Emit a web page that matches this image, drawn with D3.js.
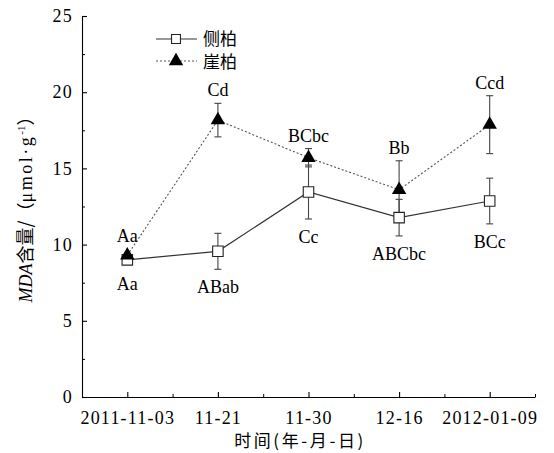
<!DOCTYPE html>
<html>
<head>
<meta charset="utf-8">
<script src="https://cdn.jsdelivr.net/npm/d3@7"></script>
<style>
  body { margin: 0; background: #fff; }
  svg { display: block; }
</style>
</head>
<body>
<svg width="554" height="453"></svg>
<script>
const categories = ['2011-11-03', '11-21', '11-30', '12-16', '2012-01-09'];
const cebaiMean = [9.0, 9.56, 13.45, 11.77, 12.86];
const cebaiErr = [0, 1.18, 1.77, 1.2, 1.5];
const yabaiMean = [9.3, 18.17, 15.7, 13.6, 17.87];
const yabaiErr = [0, 1.1, 0.6, 1.9, 1.9];
const cebaiLetters = ['Aa', 'ABab', 'Cc', 'ABCbc', 'BCc'];
const yabaiLetters = ['Aa', 'Cd', 'BCbc', 'Bb', 'Ccd'];
const yTicks = [0, 5, 10, 15, 20, 25];
const yMinor = [2.5, 7.5, 12.5, 17.5, 22.5];

const serif = '"Liberation Serif", "Noto Sans CJK SC", serif';
const cjk = '"Noto Sans CJK SC", "Liberation Serif", sans-serif';

const svg = d3.select('svg');

const x = d3.scaleLinear().domain([0.5, 5.5]).range([82, 535]);
const y = d3.scaleLinear().domain([0, 25]).range([397, 16]);
const idx = categories.map((c, i) => i + 1);

// minor ticks first
svg.append('g')
    .attr('transform', 'translate(0,397)')
    .call(d3.axisBottom(x).tickValues([1.5, 2.5, 3.5, 4.5, 5.5]).tickSize(-3).tickSizeOuter(0).tickFormat(''))
    .call(g => g.select('.domain').remove());
svg.append('g')
    .attr('transform', 'translate(82,0)')
    .call(d3.axisLeft(y).tickValues(yMinor).tickSize(-3).tickSizeOuter(0).tickFormat(''))
    .call(g => g.select('.domain').remove());

const xAxis = svg.append('g')
    .attr('transform', 'translate(0,397)')
    .call(d3.axisBottom(x).tickValues(idx).tickSize(-5).tickSizeOuter(0)
        .tickPadding(14).tickFormat(i => categories[i - 1]));

const yAxis = svg.append('g')
    .attr('transform', 'translate(82,0)')
    .call(d3.axisLeft(y).tickValues(yTicks).tickSize(-5).tickSizeOuter(0)
        .tickPadding(9).tickFormat(d3.format('d')));

[xAxis, yAxis].forEach(g => {
    g.attr('font-family', serif).attr('font-size', 18);
    g.selectAll('text').attr('fill', '#000').attr('letter-spacing', '1.2px');
    g.selectAll('line, path').attr('stroke', '#000').attr('stroke-width', 1.1);
});

// axis titles
svg.append('text')
    .attr('x', 300).attr('y', 447)
    .attr('text-anchor', 'middle')
    .attr('font-family', cjk).attr('font-size', 17)
    .attr('letter-spacing', '2.6px')
    .text('时间(年-月-日)');

const yt = svg.append('text')
    .attr('transform', 'translate(32,205) rotate(-90)')
    .attr('text-anchor', 'middle')
    .attr('font-family', serif).attr('font-size', 18);
yt.append('tspan').attr('font-style', 'italic').text('MDA');
yt.append('tspan').attr('font-family', cjk).text('含量/（');
yt.append('tspan').attr('letter-spacing', '2.5px').text('μmol·g');
yt.append('tspan').attr('font-size', 11).attr('dy', -7).text('-1');
yt.append('tspan').attr('font-family', cjk).attr('dy', 7).text('）');

// lines
const line = d3.line().x((d, i) => x(i + 1)).y(d => y(d));
svg.append('path')
    .datum(cebaiMean)
    .attr('d', line)
    .attr('fill', 'none')
    .attr('stroke', '#333')
    .attr('stroke-width', 1.2);
svg.append('path')
    .datum(yabaiMean)
    .attr('d', line)
    .attr('fill', 'none')
    .attr('stroke', '#555')
    .attr('stroke-width', 1.1)
    .attr('stroke-dasharray', '2,2');

// error bars
function errorBars(means, errs) {
    const g = svg.append('g').attr('stroke', '#444').attr('stroke-width', 1.1);
    means.forEach((m, i) => {
        if (!errs[i]) return;
        const cx = x(i + 1);
        g.append('line').attr('x1', cx).attr('x2', cx)
            .attr('y1', y(m - errs[i])).attr('y2', y(m + errs[i]));
        [m - errs[i], m + errs[i]].forEach(v => {
            g.append('line').attr('x1', cx - 3.5).attr('x2', cx + 3.5)
                .attr('y1', y(v)).attr('y2', y(v));
        });
    });
}
errorBars(cebaiMean, cebaiErr);
errorBars(yabaiMean, yabaiErr);

// markers
const square = d3.symbol().type(d3.symbolSquare).size(110);
const triangle = d3.symbol().type(d3.symbolTriangle).size(90);

svg.append('g').selectAll('path')
    .data(cebaiMean)
    .join('path')
    .attr('transform', (d, i) => `translate(${x(i + 1)},${y(d)})`)
    .attr('d', square)
    .attr('fill', '#fff')
    .attr('stroke', '#222')
    .attr('stroke-width', 1.1);

svg.append('g').selectAll('path')
    .data(yabaiMean)
    .join('path')
    .attr('transform', (d, i) => `translate(${x(i + 1)},${y(d)})`)
    .attr('d', triangle)
    .attr('fill', '#000');

// significance letters
svg.append('g')
    .attr('font-family', serif).attr('font-size', 18).attr('text-anchor', 'middle')
    .selectAll('text')
    .data(yabaiLetters)
    .join('text')
    .attr('x', (d, i) => x(i + 1))
    .attr('y', (d, i) => Math.min(y(yabaiMean[i] + yabaiErr[i]), y(yabaiMean[i]) - 6) - 7)
    .text(d => d);

svg.append('g')
    .attr('font-family', serif).attr('font-size', 18).attr('text-anchor', 'middle')
    .selectAll('text')
    .data(cebaiLetters)
    .join('text')
    .attr('x', (d, i) => x(i + 1))
    .attr('y', (d, i) => Math.max(y(cebaiMean[i] - cebaiErr[i]), y(cebaiMean[i]) + 6) + 24)
    .text(d => d);

// legend
const legend = svg.append('g');
legend.append('line').attr('x1', 156).attr('x2', 197).attr('y1', 39).attr('y2', 39)
    .attr('stroke', '#333').attr('stroke-width', 1.2);
legend.append('path').attr('transform', 'translate(176,39)')
    .attr('d', d3.symbol().type(d3.symbolSquare).size(80))
    .attr('fill', '#fff').attr('stroke', '#222').attr('stroke-width', 1.1);
legend.append('line').attr('x1', 156).attr('x2', 197).attr('y1', 61).attr('y2', 61)
    .attr('stroke', '#555').attr('stroke-width', 1.1).attr('stroke-dasharray', '2,2');
legend.append('path').attr('transform', 'translate(176,61)')
    .attr('d', triangle)
    .attr('fill', '#000');
legend.append('text').attr('x', 203).attr('y', 45)
    .attr('font-family', cjk).attr('font-size', 17).text('侧柏');
legend.append('text').attr('x', 203).attr('y', 68)
    .attr('font-family', cjk).attr('font-size', 17).text('崖柏');
</script>
</body>
</html>
